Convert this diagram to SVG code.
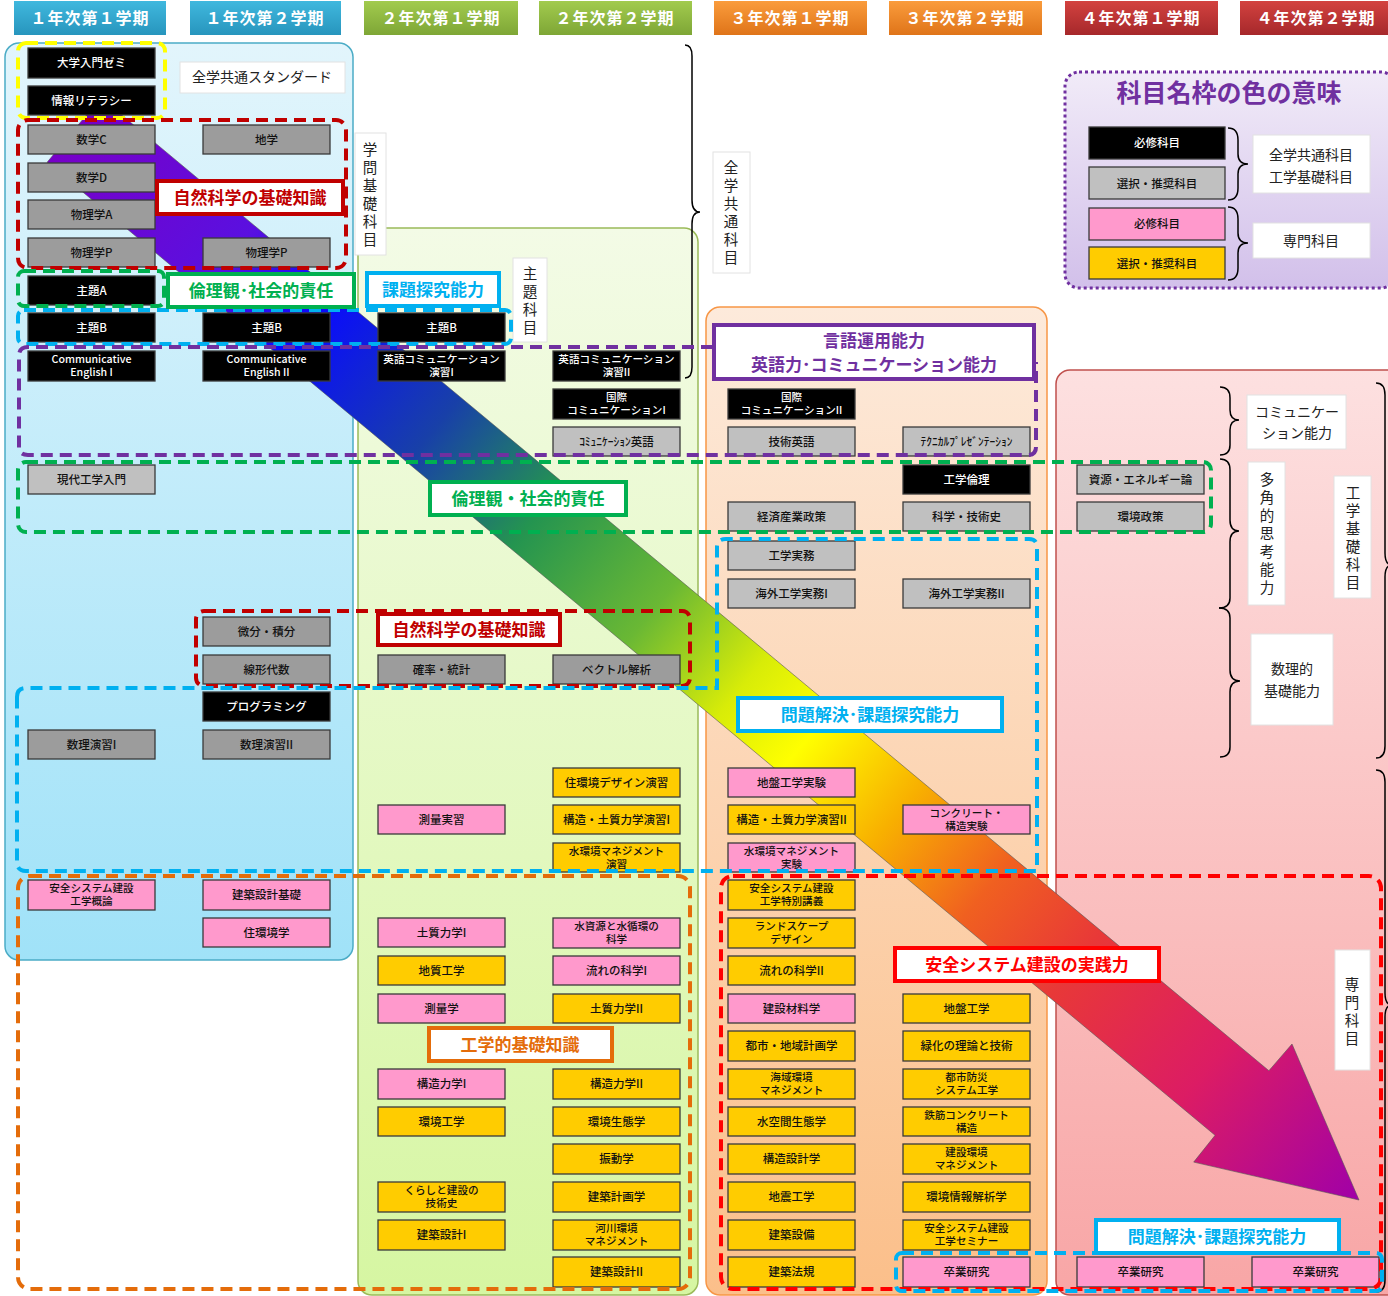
<svg xmlns="http://www.w3.org/2000/svg" width="1388" height="1296" viewBox="0 0 1388 1296">
<defs>
<style>
.bx{stroke:#3a3a3a;stroke-width:1.3}
.k{fill:#000}
.g{fill:#9c9c9c}
.l{fill:#c0c0c0}
.p{fill:#ff99cc}
.y{fill:#ffcc00}
text{font-family:"Noto Sans CJK JP","Noto Sans",sans-serif}
.t{font-size:11.5px;fill:#111;text-anchor:middle;font-weight:500}
.s{font-size:10.6px}
.tw{fill:#fff}
.hd{font-size:16px;font-weight:700;fill:#fff;text-anchor:middle;letter-spacing:1px}
.lb{fill:#fff;stroke-width:4}
.lt{font-size:17px;font-weight:700;text-anchor:middle}
.dash{fill:none;stroke-width:4;stroke-dasharray:12 7}
.wb{fill:#fff;stroke:#e2e2e2;stroke-width:1}
.vt{font-size:14px;fill:#222;text-anchor:middle}
.vv{font-size:14.5px;fill:#222;text-anchor:middle;writing-mode:vertical-rl;letter-spacing:3.5px}
.br{fill:none;stroke:#000;stroke-width:1.5}
</style>
<linearGradient id="gBlue" x1="0" y1="0" x2="0" y2="1"><stop offset="0" stop-color="#e2f5fc"/><stop offset="1" stop-color="#a0e2f8"/></linearGradient>
<linearGradient id="gGreen" x1="0" y1="0" x2="0" y2="1"><stop offset="0" stop-color="#f3fbe6"/><stop offset="1" stop-color="#d6f6a2"/></linearGradient>
<linearGradient id="gOrange" x1="0" y1="0" x2="0" y2="1"><stop offset="0" stop-color="#fdeadb"/><stop offset="1" stop-color="#fbbf8a"/></linearGradient>
<linearGradient id="gPink" x1="0" y1="0" x2="0" y2="1"><stop offset="0" stop-color="#fde0e0"/><stop offset="1" stop-color="#f8a6a6"/></linearGradient>
<linearGradient id="gLeg" x1="0" y1="0" x2="0" y2="1"><stop offset="0" stop-color="#f1ebf8"/><stop offset="1" stop-color="#d2c0ea"/></linearGradient>
<linearGradient id="hB" x1="0" y1="0" x2="0" y2="1"><stop offset="0" stop-color="#40b8de"/><stop offset="1" stop-color="#2795bd"/></linearGradient>
<linearGradient id="hG" x1="0" y1="0" x2="0" y2="1"><stop offset="0" stop-color="#a2cb4e"/><stop offset="1" stop-color="#7ea636"/></linearGradient>
<linearGradient id="hO" x1="0" y1="0" x2="0" y2="1"><stop offset="0" stop-color="#fa9c3c"/><stop offset="1" stop-color="#df7419"/></linearGradient>
<linearGradient id="hR" x1="0" y1="0" x2="0" y2="1"><stop offset="0" stop-color="#d3423f"/><stop offset="1" stop-color="#a6282b"/></linearGradient>
<linearGradient id="band" gradientUnits="userSpaceOnUse" x1="74" y1="130" x2="1359" y2="1200">
<stop offset="0" stop-color="#7800c8"/>
<stop offset="0.12" stop-color="#5a10e0"/>
<stop offset="0.18" stop-color="#0a0aff"/>
<stop offset="0.28" stop-color="#1840a8"/>
<stop offset="0.36" stop-color="#249450"/>
<stop offset="0.45" stop-color="#6ab834"/>
<stop offset="0.52" stop-color="#d8ec08"/>
<stop offset="0.57" stop-color="#ffff00"/>
<stop offset="0.64" stop-color="#f8b000"/>
<stop offset="0.71" stop-color="#f06020"/>
<stop offset="0.78" stop-color="#e83838"/>
<stop offset="0.88" stop-color="#dc1c64"/>
<stop offset="1" stop-color="#a000a8"/>
</linearGradient>
</defs>
<rect width="1388" height="1296" fill="#fff"/>

<g id="header">
<rect x="14" y="1" width="152" height="34" fill="url(#hB)"/><text class="hd" x="90" y="24">１年次第１学期</text>
<rect x="190" y="1" width="151" height="34" fill="url(#hB)"/><text class="hd" x="265" y="24">１年次第２学期</text>
<rect x="364" y="1" width="154" height="34" fill="url(#hG)"/><text class="hd" x="441" y="24">２年次第１学期</text>
<rect x="539" y="1" width="153" height="34" fill="url(#hG)"/><text class="hd" x="615" y="24">２年次第２学期</text>
<rect x="714" y="1" width="153" height="34" fill="url(#hO)"/><text class="hd" x="790" y="24">３年次第１学期</text>
<rect x="889" y="1" width="153" height="34" fill="url(#hO)"/><text class="hd" x="965" y="24">３年次第２学期</text>
<rect x="1065" y="1" width="153" height="34" fill="url(#hR)"/><text class="hd" x="1141" y="24">４年次第１学期</text>
<rect x="1240" y="1" width="150" height="34" fill="url(#hR)"/><text class="hd" x="1316" y="24">４年次第２学期</text>
</g>

<g id="regions">
<rect x="5" y="43" width="348" height="917" rx="14" fill="url(#gBlue)" stroke="#4bacc6" stroke-width="1.5"/>
<rect x="358" y="228" width="340" height="1067" rx="14" fill="url(#gGreen)" stroke="#9bbb59" stroke-width="1.5"/>
<rect x="706" y="307" width="341" height="988" rx="14" fill="url(#gOrange)" stroke="#f79646" stroke-width="1.5"/>
<rect x="1056" y="370" width="345" height="925" rx="14" fill="url(#gPink)" stroke="#c0504d" stroke-width="1.5"/>
</g>

<g id="legend">
<rect x="1065" y="72" width="330" height="216" rx="14" fill="url(#gLeg)" stroke="#7030a0" stroke-width="3" stroke-dasharray="3 3"/>
<text x="1229" y="102" font-size="25" font-weight="700" fill="#7030a0" text-anchor="middle">科目名枠の色の意味</text>
<rect class="bx k" x="1089" y="127" width="136" height="32"/><text class="t tw" x="1157" y="147">必修科目</text>
<rect class="bx l" x="1089" y="167" width="136" height="32"/><text class="t" x="1157" y="188" font-size="12">選択・推奨科目</text>
<rect class="bx p" x="1089" y="208" width="136" height="32"/><text class="t" x="1157" y="228">必修科目</text>
<rect class="bx y" x="1089" y="247" width="136" height="32"/><text class="t" x="1157" y="268" font-size="12">選択・推奨科目</text>
<path class="br" d="M1228 128 Q1238 128 1238 140 L1238 154 Q1238 164 1248 164 Q1238 164 1238 174 L1238 188 Q1238 200 1228 200"/>
<path class="br" d="M1228 207 Q1238 207 1238 219 L1238 233 Q1238 243 1248 243 Q1238 243 1238 253 L1238 268 Q1238 280 1228 280"/>
<rect class="wb" x="1253" y="135" width="117" height="58"/>
<text class="vt" x="1311" y="160" font-size="15">全学共通科目</text>
<text class="vt" x="1311" y="182" font-size="15">工学基礎科目</text>
<rect class="wb" x="1253" y="223" width="117" height="35"/>
<text class="vt" x="1311" y="246" font-size="15">専門科目</text>
</g>

<g id="side-labels">
<rect class="wb" x="180" y="62" width="165" height="31"/><text class="vt" x="262" y="82">全学共通スタンダード</text>
<rect class="wb" x="355" y="133" width="31" height="122"/>
<text class="vv" x="370" y="196">学問基礎科目</text>
<rect class="wb" x="513" y="258" width="34" height="84"/>
<text class="vv" x="530" y="302">主題科目</text>
<rect class="wb" x="713" y="152" width="37" height="121"/>
<text class="vv" x="731" y="214">全学共通科目</text>
<path class="br" d="M685 45 Q692 45 692 56 L692 200 Q692 212 700 212 Q692 212 692 224 L692 367 Q692 378 685 378"/>
<rect class="wb" x="1247" y="395" width="99" height="54"/>
<text class="vt" x="1297" y="417">コミュニケー</text><text class="vt" x="1297" y="438">ション能力</text>
<rect class="wb" x="1248" y="462" width="37" height="143"/>
<text class="vv" x="1267" y="535">多角的思考能力</text>
<rect class="wb" x="1334" y="476" width="37" height="122"/>
<text class="vv" x="1353" y="539">工学基礎科目</text>
<rect class="wb" x="1251" y="634" width="82" height="91"/>
<text class="vt" x="1292" y="674">数理的</text><text class="vt" x="1292" y="696">基礎能力</text>
<rect class="wb" x="1335" y="950" width="35" height="120"/>
<text class="vv" x="1352" y="1013">専門科目</text>
<path class="br" d="M1220 387 Q1230 387 1230 398 L1230 410 Q1230 420 1239 420 Q1230 420 1230 430 L1230 445 Q1230 455 1220 455"/>
<path class="br" d="M1220 459 Q1230 459 1230 470 L1230 520 Q1230 531 1239 531 Q1230 531 1230 542 L1230 598 Q1230 608 1219 608"/>
<path class="br" d="M1219 608 Q1230 608 1230 618 L1230 670 Q1230 681 1240 681 Q1230 681 1230 692 L1230 747 Q1230 757 1220 757"/>
<path class="br" d="M1376 383 Q1385 383 1385 395 L1385 553 Q1385 565 1392 565 Q1385 565 1385 577 L1385 746 Q1385 758 1376 758"/>
<path class="br" d="M1376 770 Q1385 770 1385 782 L1385 993 Q1385 1005 1392 1005 Q1385 1005 1385 1017 L1385 1280 Q1385 1292 1376 1292"/>
</g>

<g id="arrow">
<polygon points="100.9,97.7 1268.9,1070.7 1292,1044 1359,1200 1193.7,1162.1 1215.1,1135.3 47.1,162.3" fill="url(#band)" stroke="#555" stroke-width="0.6"/>
</g>

<g id="nodes">
<g id="n-daigaku"><rect class="bx k" x="28" y="48" width="127" height="30"/><text class="t tw" x="91.5" y="67">大学入門ゼミ</text></g>
<g id="n-joho"><rect class="bx k" x="28" y="86" width="127" height="29"/><text class="t tw" x="91.5" y="104.5">情報リテラシー</text></g>
<g id="n-sugakuC"><rect class="bx g" x="28" y="125" width="127" height="29"/><text class="t" x="91.5" y="143.5">数学C</text></g>
<g id="n-sugakuD"><rect class="bx g" x="28" y="163" width="127" height="29"/><text class="t" x="91.5" y="181.5">数学D</text></g>
<g id="n-butsuriA"><rect class="bx g" x="28" y="200" width="127" height="29"/><text class="t" x="91.5" y="218.5">物理学A</text></g>
<g id="n-butsuriP1"><rect class="bx g" x="28" y="238" width="127" height="29"/><text class="t" x="91.5" y="256.5">物理学P</text></g>
<g id="n-shudaiA"><rect class="bx k" x="28" y="276" width="127" height="29"/><text class="t tw" x="91.5" y="294.5">主題A</text></g>
<g id="n-shudaiB1"><rect class="bx k" x="28" y="313" width="127" height="29"/><text class="t tw" x="91.5" y="331.5">主題B</text></g>
<g id="n-ce1"><rect class="bx k" x="28" y="351" width="127" height="30"/><text class="t s tw" x="91.5" y="363">Communicative</text><text class="t s tw" x="91.5" y="376">English I</text></g>
<g id="n-gendai"><rect class="bx l" x="28" y="465" width="127" height="29"/><text class="t" x="91.5" y="483.5">現代工学入門</text></g>
<g id="n-suri1"><rect class="bx g" x="28" y="730" width="127" height="29"/><text class="t" x="91.5" y="748.5">数理演習I</text></g>
<g id="n-anzen-gairon"><rect class="bx p" x="28" y="880" width="127" height="30"/><text class="t s" x="91.5" y="892">安全システム建設</text><text class="t s" x="91.5" y="905">工学概論</text></g>

<g id="n-chigaku"><rect class="bx g" x="203" y="125" width="127" height="29"/><text class="t" x="266.5" y="143.5">地学</text></g>
<g id="n-butsuriP2"><rect class="bx g" x="203" y="238" width="127" height="29"/><text class="t" x="266.5" y="256.5">物理学P</text></g>
<g id="n-shudaiB2"><rect class="bx k" x="203" y="313" width="127" height="29"/><text class="t tw" x="266.5" y="331.5">主題B</text></g>
<g id="n-ce2"><rect class="bx k" x="203" y="351" width="127" height="30"/><text class="t s tw" x="266.5" y="363">Communicative</text><text class="t s tw" x="266.5" y="376">English II</text></g>
<g id="n-bibun"><rect class="bx g" x="203" y="617" width="127" height="29"/><text class="t" x="266.5" y="635.5">微分・積分</text></g>
<g id="n-senkei"><rect class="bx g" x="203" y="655" width="127" height="29"/><text class="t" x="266.5" y="673.5">線形代数</text></g>
<g id="n-program"><rect class="bx k" x="203" y="692" width="127" height="29"/><text class="t tw" x="266.5" y="710.5">プログラミング</text></g>
<g id="n-suri2"><rect class="bx g" x="203" y="730" width="127" height="29"/><text class="t" x="266.5" y="748.5">数理演習II</text></g>
<g id="n-kenchiku-kiso"><rect class="bx p" x="203" y="880" width="127" height="30"/><text class="t" x="266.5" y="899">建築設計基礎</text></g>
<g id="n-jukankyo"><rect class="bx p" x="203" y="918" width="127" height="29"/><text class="t" x="266.5" y="936.5">住環境学</text></g>

<g id="n-shudaiB3"><rect class="bx k" x="378" y="313" width="127" height="29"/><text class="t tw" x="441.5" y="331.5">主題B</text></g>
<g id="n-eicom1"><rect class="bx k" x="378" y="351" width="127" height="30"/><text class="t s tw" x="441.5" y="363">英語コミュニケーション</text><text class="t s tw" x="441.5" y="376">演習I</text></g>
<g id="n-kakuritsu"><rect class="bx g" x="378" y="655" width="127" height="29"/><text class="t" x="441.5" y="673.5">確率・統計</text></g>
<g id="n-sokuryo-jisshu"><rect class="bx p" x="378" y="805" width="127" height="29"/><text class="t" x="441.5" y="823.5">測量実習</text></g>
<g id="n-doshitsu1"><rect class="bx p" x="378" y="918" width="127" height="29"/><text class="t" x="441.5" y="936.5">土質力学I</text></g>
<g id="n-chishitsu"><rect class="bx y" x="378" y="956" width="127" height="29"/><text class="t" x="441.5" y="974.5">地質工学</text></g>
<g id="n-sokuryo"><rect class="bx p" x="378" y="994" width="127" height="29"/><text class="t" x="441.5" y="1012.5">測量学</text></g>
<g id="n-kozo1"><rect class="bx p" x="378" y="1069" width="127" height="30"/><text class="t" x="441.5" y="1088">構造力学I</text></g>
<g id="n-kankyo-kogaku"><rect class="bx y" x="378" y="1107" width="127" height="29"/><text class="t" x="441.5" y="1125.5">環境工学</text></g>
<g id="n-kurashi"><rect class="bx y" x="378" y="1182" width="127" height="30"/><text class="t s" x="441.5" y="1194">くらしと建設の</text><text class="t s" x="441.5" y="1207">技術史</text></g>
<g id="n-kenchiku1"><rect class="bx y" x="378" y="1220" width="127" height="30"/><text class="t" x="441.5" y="1239">建築設計I</text></g>

<g id="n-eicom2"><rect class="bx k" x="553" y="351" width="127" height="30"/><text class="t s tw" x="616.5" y="363">英語コミュニケーション</text><text class="t s tw" x="616.5" y="376">演習II</text></g>
<g id="n-kokusai1"><rect class="bx k" x="553" y="389" width="127" height="30"/><text class="t s tw" x="616.5" y="401">国際</text><text class="t s tw" x="616.5" y="414">コミュニケーションI</text></g>
<g id="n-comeigo"><rect class="bx l" x="553" y="427" width="127" height="29"/><text class="t" x="616.5" y="445.5">ｺﾐｭﾆｹｰｼｮﾝ英語</text></g>
<g id="n-vector"><rect class="bx g" x="553" y="655" width="127" height="29"/><text class="t" x="616.5" y="673.5">ベクトル解析</text></g>
<g id="n-jukankyo-design"><rect class="bx y" x="553" y="768" width="127" height="29"/><text class="t" x="616.5" y="786.5">住環境デザイン演習</text></g>
<g id="n-kozo-doshitsu1"><rect class="bx y" x="553" y="805" width="127" height="29"/><text class="t" x="616.5" y="823.5">構造・土質力学演習I</text></g>
<g id="n-mizu-enshu"><rect class="bx y" x="553" y="843" width="127" height="29"/><text class="t s" x="616.5" y="855">水環境マネジメント</text><text class="t s" x="616.5" y="868">演習</text></g>
<g id="n-mizushigen"><rect class="bx p" x="553" y="918" width="127" height="30"/><text class="t s" x="616.5" y="930">水資源と水循環の</text><text class="t s" x="616.5" y="943">科学</text></g>
<g id="n-nagare1"><rect class="bx p" x="553" y="956" width="127" height="29"/><text class="t" x="616.5" y="974.5">流れの科学I</text></g>
<g id="n-doshitsu2"><rect class="bx y" x="553" y="994" width="127" height="29"/><text class="t" x="616.5" y="1012.5">土質力学II</text></g>
<g id="n-kozo2"><rect class="bx y" x="553" y="1069" width="127" height="30"/><text class="t" x="616.5" y="1088">構造力学II</text></g>
<g id="n-kankyo-seitai"><rect class="bx y" x="553" y="1107" width="127" height="29"/><text class="t" x="616.5" y="1125.5">環境生態学</text></g>
<g id="n-shindo"><rect class="bx y" x="553" y="1144" width="127" height="30"/><text class="t" x="616.5" y="1163">振動学</text></g>
<g id="n-kenchiku-keikaku"><rect class="bx y" x="553" y="1182" width="127" height="30"/><text class="t" x="616.5" y="1201">建築計画学</text></g>
<g id="n-kasen"><rect class="bx y" x="553" y="1220" width="127" height="30"/><text class="t s" x="616.5" y="1232">河川環境</text><text class="t s" x="616.5" y="1245">マネジメント</text></g>
<g id="n-kenchiku2"><rect class="bx y" x="553" y="1257" width="127" height="30"/><text class="t" x="616.5" y="1276">建築設計II</text></g>

<g id="n-kokusai2"><rect class="bx k" x="728" y="389" width="127" height="30"/><text class="t s tw" x="791.5" y="401">国際</text><text class="t s tw" x="791.5" y="414">コミュニケーションII</text></g>
<g id="n-gijutsu-eigo"><rect class="bx l" x="728" y="427" width="127" height="29"/><text class="t" x="791.5" y="445.5">技術英語</text></g>
<g id="n-keizai"><rect class="bx l" x="728" y="502" width="127" height="29"/><text class="t" x="791.5" y="520.5">経済産業政策</text></g>
<g id="n-kogaku-jitsumu"><rect class="bx l" x="728" y="541" width="127" height="29"/><text class="t" x="791.5" y="559.5">工学実務</text></g>
<g id="n-kaigai1"><rect class="bx l" x="728" y="579" width="127" height="29"/><text class="t" x="791.5" y="597.5">海外工学実務I</text></g>
<g id="n-jiban-jikken"><rect class="bx p" x="728" y="768" width="127" height="29"/><text class="t" x="791.5" y="786.5">地盤工学実験</text></g>
<g id="n-kozo-doshitsu2"><rect class="bx y" x="728" y="805" width="127" height="29"/><text class="t" x="791.5" y="823.5">構造・土質力学演習II</text></g>
<g id="n-mizu-jikken"><rect class="bx p" x="728" y="843" width="127" height="29"/><text class="t s" x="791.5" y="855">水環境マネジメント</text><text class="t s" x="791.5" y="868">実験</text></g>
<g id="n-anzen-tokubetsu"><rect class="bx y" x="728" y="880" width="127" height="30"/><text class="t s" x="791.5" y="892">安全システム建設</text><text class="t s" x="791.5" y="905">工学特別講義</text></g>
<g id="n-landscape"><rect class="bx y" x="728" y="918" width="127" height="30"/><text class="t s" x="791.5" y="930">ランドスケープ</text><text class="t s" x="791.5" y="943">デザイン</text></g>
<g id="n-nagare2"><rect class="bx y" x="728" y="956" width="127" height="29"/><text class="t" x="791.5" y="974.5">流れの科学II</text></g>
<g id="n-kensetsu-zairyo"><rect class="bx p" x="728" y="994" width="127" height="29"/><text class="t" x="791.5" y="1012.5">建設材料学</text></g>
<g id="n-toshi-chiiki"><rect class="bx y" x="728" y="1031" width="127" height="30"/><text class="t" x="791.5" y="1050">都市・地域計画学</text></g>
<g id="n-kaiiki"><rect class="bx y" x="728" y="1069" width="127" height="30"/><text class="t s" x="791.5" y="1081">海域環境</text><text class="t s" x="791.5" y="1094">マネジメント</text></g>
<g id="n-suikukan"><rect class="bx y" x="728" y="1107" width="127" height="29"/><text class="t" x="791.5" y="1125.5">水空間生態学</text></g>
<g id="n-kozo-sekkei"><rect class="bx y" x="728" y="1144" width="127" height="30"/><text class="t" x="791.5" y="1163">構造設計学</text></g>
<g id="n-jishin"><rect class="bx y" x="728" y="1182" width="127" height="30"/><text class="t" x="791.5" y="1201">地震工学</text></g>
<g id="n-kenchiku-setsubi"><rect class="bx y" x="728" y="1220" width="127" height="30"/><text class="t" x="791.5" y="1239">建築設備</text></g>
<g id="n-kenchiku-hoki"><rect class="bx y" x="728" y="1257" width="127" height="30"/><text class="t" x="791.5" y="1276">建築法規</text></g>

<g id="n-technical"><rect class="bx l" x="903" y="427" width="127" height="29"/><text class="t" x="966.5" y="445.5">ﾃｸﾆｶﾙﾌﾟﾚｾﾞﾝﾃｰｼｮﾝ</text></g>
<g id="n-rinri"><rect class="bx k" x="903" y="465" width="127" height="29"/><text class="t tw" x="966.5" y="483.5">工学倫理</text></g>
<g id="n-kagakushi"><rect class="bx l" x="903" y="502" width="127" height="29"/><text class="t" x="966.5" y="520.5">科学・技術史</text></g>
<g id="n-kaigai2"><rect class="bx l" x="903" y="579" width="127" height="29"/><text class="t" x="966.5" y="597.5">海外工学実務II</text></g>
<g id="n-concrete-jikken"><rect class="bx p" x="903" y="805" width="127" height="29"/><text class="t s" x="966.5" y="817">コンクリート・</text><text class="t s" x="966.5" y="830">構造実験</text></g>
<g id="n-jiban"><rect class="bx y" x="903" y="994" width="127" height="29"/><text class="t" x="966.5" y="1012.5">地盤工学</text></g>
<g id="n-ryokka"><rect class="bx y" x="903" y="1031" width="127" height="30"/><text class="t" x="966.5" y="1050">緑化の理論と技術</text></g>
<g id="n-toshi-bosai"><rect class="bx y" x="903" y="1069" width="127" height="30"/><text class="t s" x="966.5" y="1081">都市防災</text><text class="t s" x="966.5" y="1094">システム工学</text></g>
<g id="n-tekkin"><rect class="bx y" x="903" y="1107" width="127" height="29"/><text class="t s" x="966.5" y="1119">鉄筋コンクリート</text><text class="t s" x="966.5" y="1132">構造</text></g>
<g id="n-kensetsu-kankyo"><rect class="bx y" x="903" y="1144" width="127" height="30"/><text class="t s" x="966.5" y="1156">建設環境</text><text class="t s" x="966.5" y="1169">マネジメント</text></g>
<g id="n-kankyo-joho"><rect class="bx y" x="903" y="1182" width="127" height="30"/><text class="t" x="966.5" y="1201">環境情報解析学</text></g>
<g id="n-anzen-seminar"><rect class="bx y" x="903" y="1220" width="127" height="30"/><text class="t s" x="966.5" y="1232">安全システム建設</text><text class="t s" x="966.5" y="1245">工学セミナー</text></g>
<g id="n-sotsuken1"><rect class="bx p" x="903" y="1257" width="127" height="30"/><text class="t" x="966.5" y="1276">卒業研究</text></g>

<g id="n-shigen"><rect class="bx l" x="1077" y="465" width="127" height="29"/><text class="t" x="1140.5" y="483.5">資源・エネルギー論</text></g>
<g id="n-kankyo-seisaku"><rect class="bx l" x="1077" y="502" width="127" height="29"/><text class="t" x="1140.5" y="520.5">環境政策</text></g>
<g id="n-sotsuken2"><rect class="bx p" x="1077" y="1257" width="127" height="30"/><text class="t" x="1140.5" y="1276">卒業研究</text></g>
<g id="n-sotsuken3"><rect class="bx p" x="1252" y="1257" width="127" height="30"/><text class="t" x="1315.5" y="1276">卒業研究</text></g>
</g>

<g id="groups">
<rect class="dash" x="18" y="43" width="147" height="75" rx="8" stroke="#ffff00"/>
<rect class="dash" x="18" y="120" width="328" height="148" rx="10" stroke="#c00000"/>
<rect class="dash" x="18" y="271" width="146" height="35" rx="6" stroke="#00b050"/>
<rect class="dash" x="18" y="310" width="493" height="34" rx="6" stroke="#00b0f0"/>
<path class="dash" stroke="#7030a0" d="M713 347 L28 347 Q19 347 19 356 L19 447 Q19 455 28 455 L1028 455 Q1036 455 1036 447 L1036 362"/>
<rect class="dash" x="18" y="462" width="1193" height="70" rx="8" stroke="#00b050"/>
<rect class="dash" x="196" y="611" width="494" height="75" rx="8" stroke="#c00000"/>
<rect class="dash" x="18" y="876" width="672" height="413" rx="12" stroke="#e46c0a"/>
<rect class="dash" x="721" y="876" width="660" height="413" rx="12" stroke="#ff0000"/>
<path class="dash" stroke="#00b0f0" d="M17 697 Q17 688 26 688 L717 688 L717 547 Q717 539 726 539 L1029 539 Q1037 539 1037 547 L1037 871 L26 871 Q17 871 17 862 Z"/>
<rect class="dash" x="896" y="1253" width="486" height="38" rx="6" stroke="#00b0f0"/>
</g>

<g id="labels">
<rect class="lb" x="157" y="181" width="186" height="33" stroke="#c00000"/><text class="lt" x="250" y="204" fill="#c00000">自然科学の基礎知識</text>
<rect class="lb" x="168" y="274" width="186" height="33" stroke="#00b050"/><text class="lt" x="261" y="297" fill="#00b050">倫理観･社会的責任</text>
<rect class="lb" x="367" y="273" width="132" height="33" stroke="#00b0f0"/><text class="lt" x="433" y="296" fill="#00b0f0">課題探究能力</text>
<rect class="lb" x="714" y="325" width="320" height="54" stroke="#7030a0"/><text class="lt" x="874" y="347" fill="#7030a0" font-size="15.5">言語運用能力</text><text class="lt" x="874" y="371" fill="#7030a0" font-size="15.5">英語力･コミュニケーション能力</text>
<rect class="lb" x="430" y="482" width="196" height="33" stroke="#00b050"/><text class="lt" x="528" y="505" fill="#00b050">倫理観・社会的責任</text>
<rect class="lb" x="378" y="614" width="182" height="31" stroke="#c00000"/><text class="lt" x="469" y="636" fill="#c00000">自然科学の基礎知識</text>
<rect class="lb" x="738" y="698" width="264" height="33" stroke="#00b0f0"/><text class="lt" x="870" y="721" fill="#00b0f0">問題解決･課題探究能力</text>
<rect class="lb" x="429" y="1028" width="183" height="33" stroke="#e46c0a"/><text class="lt" x="520" y="1051" fill="#e46c0a">工学的基礎知識</text>
<rect class="lb" x="895" y="948" width="264" height="33" stroke="#ff0000"/><text class="lt" x="1027" y="971" fill="#ff0000">安全システム建設の実践力</text>
<rect class="lb" x="1096" y="1220" width="243" height="33" stroke="#00b0f0"/><text class="lt" x="1217" y="1243" fill="#00b0f0">問題解決･課題探究能力</text>
</g>
</svg>
